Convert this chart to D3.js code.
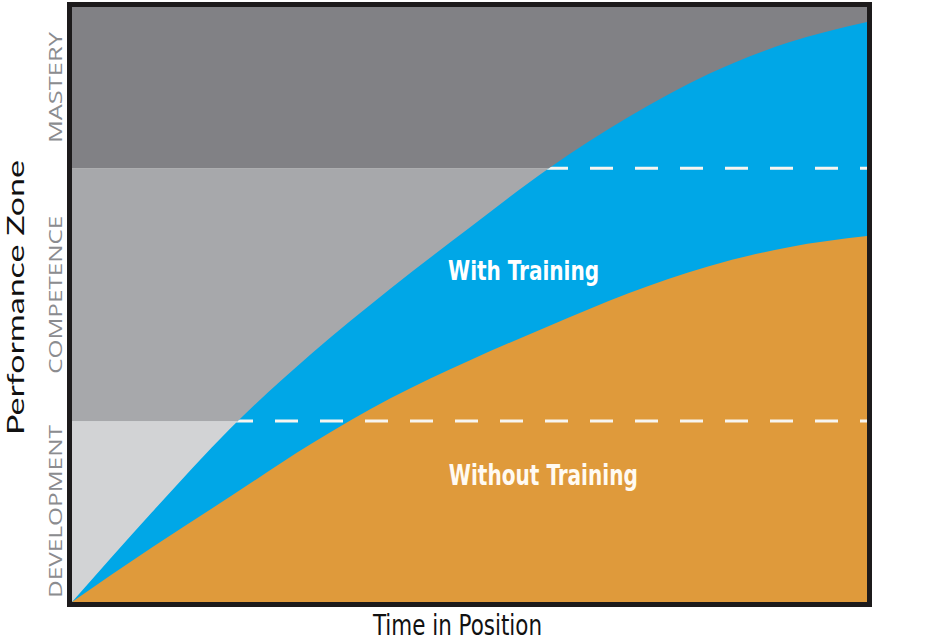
<!DOCTYPE html>
<html>
<head>
<meta charset="utf-8">
<script src="https://cdn.jsdelivr.net/npm/d3@7/dist/d3.min.js"></script>
<style>
  html, body { margin: 0; padding: 0; background: #ffffff; }
  svg { display: block; }
</style>
</head>
<body>
<svg id="chart" width="938" height="642"></svg>
<script>
// ---- data ----
const timeInPosition = [0, 10, 20, 30, 40, 50, 60, 70, 80, 90, 100];
const withTraining    = [0, 15.0, 29.3, 41.6, 52.6, 62.9, 72.9, 81.5, 88.7, 94.0, 97.5];
const withoutTraining = [0, 9.1, 17.8, 26.5, 34.2, 40.6, 46.4, 51.9, 56.4, 59.6, 61.5];
const zoneNames  = ["DEVELOPMENT", "COMPETENCE", "MASTERY"];
const zoneBounds = [0, 30.4, 72.9, 100];
const seriesLabels = ["With Training", "Without Training"];
const xAxisTitle = "Time in Position";
const yAxisTitle = "Performance Zone";

// ---- layout ----
const svg = d3.select("#chart");
const plot = { left: 72, right: 867, top: 7, bottom: 602 };
const x = d3.scaleLinear().domain([0, 100]).range([plot.left, plot.right]);
const y = d3.scaleLinear().domain([0, 100]).range([plot.bottom, plot.top]);

const zoneColors = ["#d2d3d5", "#a7a8ab", "#818185"];
const blue = "#00a7e7";
const orange = "#df9a3b";

// zone bands
svg.append("g").selectAll("rect")
  .data(zoneNames)
  .join("rect")
  .attr("x", x(0))
  .attr("width", x(100) - x(0))
  .attr("y", (d, i) => y(zoneBounds[i + 1]))
  .attr("height", (d, i) => y(zoneBounds[i]) - y(zoneBounds[i + 1]))
  .attr("fill", (d, i) => zoneColors[i]);

const withData = timeInPosition.map((t, i) => ({ t, v: withTraining[i] }));
const withoutData = timeInPosition.map((t, i) => ({ t, v: withoutTraining[i] }));

const area = d3.area()
  .x(d => x(d.t))
  .y0(y(0))
  .y1(d => y(d.v))
  .curve(d3.curveMonotoneX);

// clip for dashed lines = region under the "with training" curve
svg.append("clipPath").attr("id", "underBlue")
  .append("path").attr("d", area(withData));

svg.append("path").attr("d", area(withData)).attr("fill", blue);
svg.append("path").attr("d", area(withoutData)).attr("fill", orange);

// dashed zone boundaries
svg.append("g").attr("clip-path", "url(#underBlue)")
  .selectAll("line")
  .data(zoneBounds.slice(1, 3))
  .join("line")
  .attr("x1", x(0)).attr("x2", x(100))
  .attr("y1", d => y(d)).attr("y2", d => y(d))
  .attr("stroke", "#f7f5f0")
  .attr("stroke-width", 3)
  .attr("stroke-dasharray", "23,22")
  .attr("stroke-dashoffset", 22);

// series labels
const labelFont = "'Liberation Sans Narrow','DejaVu Sans Condensed','Open Sans',sans-serif";
svg.append("text")
  .attr("x", x(47.3)).attr("y", y(54.1))
  .attr("fill", "#ffffff")
  .attr("font-family", labelFont)
  .attr("font-weight", 600)
  .attr("font-size", 27)
  .attr("textLength", 151)
  .attr("lengthAdjust", "spacingAndGlyphs")
  .text(seriesLabels[0]);
svg.append("text")
  .attr("x", x(47.4)).attr("y", y(19.7))
  .attr("fill", "#fffaf2")
  .attr("font-family", labelFont)
  .attr("font-weight", 600)
  .attr("font-size", 28)
  .attr("textLength", 189)
  .attr("lengthAdjust", "spacingAndGlyphs")
  .text(seriesLabels[1]);

// zone labels (rotated, left of the frame)
const zoneLen = [173, 158, 111];
svg.append("g").selectAll("text")
  .data(zoneNames)
  .join("text")
  .attr("transform", (d, i) => `translate(62,${(y(zoneBounds[i]) + y(zoneBounds[i + 1])) / 2}) rotate(-90)`)
  .attr("text-anchor", "middle")
  .attr("fill", "#8b8c8f")
  .attr("font-family", "'Open Sans','Noto Sans',sans-serif")
  .attr("font-size", 19)
  .attr("textLength", (d, i) => zoneLen[i])
  .attr("lengthAdjust", "spacingAndGlyphs")
  .text(d => d);

// frame
svg.append("rect")
  .attr("x", x(0) - 2.5).attr("y", y(100) - 2.5)
  .attr("width", x(100) - x(0) + 5).attr("height", y(0) - y(100) + 5)
  .attr("fill", "none")
  .attr("stroke", "#1c1a1b")
  .attr("stroke-width", 5);

// axis titles
svg.append("text")
  .attr("x", 457.5).attr("y", 635)
  .attr("text-anchor", "middle")
  .attr("fill", "#111")
  .attr("font-family", labelFont)
  .attr("font-size", 28)
  .attr("textLength", 169)
  .attr("lengthAdjust", "spacingAndGlyphs")
  .text(xAxisTitle);

svg.append("text")
  .attr("transform", `translate(24,${(y(0) + y(100)) / 2 - 7}) rotate(-90)`)
  .attr("text-anchor", "middle")
  .attr("fill", "#111")
  .attr("font-family", "'Lato','Open Sans',sans-serif")
  .attr("font-size", 24)
  .attr("textLength", 275)
  .attr("lengthAdjust", "spacingAndGlyphs")
  .text(yAxisTitle);
</script>
</body>
</html>
